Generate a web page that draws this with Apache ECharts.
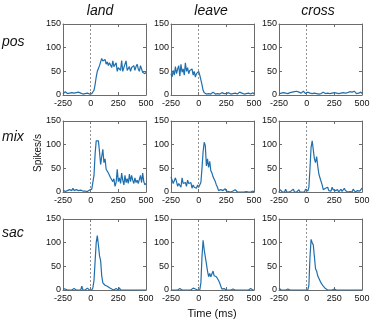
<!DOCTYPE html>
<html><head><meta charset="utf-8">
<script src="https://cdn.jsdelivr.net/npm/echarts@6/dist/echarts.min.js"></script>
<style>html,body{margin:0;padding:0;background:#fff}#c{width:380px;height:324px}</style>
</head><body><div id="c"></div>
<script>
const times = [-250,-240,-230,-220,-210,-200,-190,-180,-170,-160,
-150,-140,-130,-120,-110,-100,-90,-80,-70,-60,
-50,-40,-30,-20,-10,0,10,20,30,40,
50,60,70,80,90,100,110,120,130,140,
150,160,170,180,190,200,210,220,230,240,
250,260,270,280,290,300,310,320,330,340,
350,360,370,380,390,400,410,420,430,440,
450,460,470,480,490,500];
const colTitles = ['land','leave','cross'];
const rowTitles = ['pos','mix','sac'];
const xTicks = [-250,0,250,500];
const yTicks = [0,50,100,150];

const posLand = [2,5,7,6,3,6,4,2,5,3, 4,2,5,3,6,2,4,3,2,5, 3,2,4,6,2,4,3,6,10,22,
 38,50,56,62,70,77,72,68,75,65, 70,62,68,66,58,72,60,56,68,50, 58,55,52,73,50,58,54,72,52,56,
 60,50,58,55,62,52,60,65,55,50, 62,55,48,52,45,48];
const posLeave = [45,38,52,42,60,45,55,62,40,65, 48,55,42,68,50,58,45,52,48,55, 42,50,38,45,45,50,42,38,22,10,
 5,4,2,6,3,5,2,4,6,3, 2,5,3,6,2,4,5,2,3,6, 3,2,5,4,2,6,3,2,4,5,
 2,3,6,2,4,3,2,5,3,2, 4,6,2,3,5,2];
const posCross = [2,3,4,2,5,3,4,6,3,4, 5,3,6,4,7,5,8,4,6,3, 4,5,8,6,3,2,6,3,4,2,
 3,1,4,2,3,5,2,4,3,5, 6,4,3,5,4,6,3,5,4,2, 5,3,4,6,3,2,4,3,5,6,
 4,3,5,4,7,5,6,4,8,5, 3,6,4,8,6,3];
const mixLand = [4,3,1,2,3,2,5,2,3,8, 3,2,5,6,3,2,4,3,2,1, 2,3,1,5,4,4,6,10,35,80,
 108,110,108,85,58,75,90,62,70,48, 52,40,38,30,32,22,28,12,20,48, 22,30,18,40,25,15,35,20,28,18,
 38,22,35,25,18,30,20,25,18,22, 35,20,40,22,15,18];
const mixLeave = [32,25,18,15,30,22,12,18,15,10, 30,18,15,20,12,25,18,15,20,8, 15,10,12,8,15,10,14,20,50,85,
 105,98,55,70,52,65,45,40,32,30, 22,15,10,3,2,5,1,3,2,7, 2,0,1,3,0,1,2,0,5,1,
 0,1,0,2,0,1,0,0,1,0, 0,1,0,0,2,0];
const mixCross = [0,5,2,0,1,0,6,0,1,0, 0,2,0,6,0,1,0,0,5,0, 1,0,4,0,6,3,2,10,50,95,
 108,105,70,62,75,55,38,30,28,15, 5,2,8,5,10,3,6,2,10,5, 8,3,1,5,0,2,6,1,4,8,
 3,5,0,2,1,4,0,6,2,0, 1,3,0,2,5,8];
const sacLand = [3,5,2,0,0,0,0,0,0,0, 3,0,0,0,0,4,0,8,0,4, 0,0,4,0,0,1,0,5,20,60,
 100,115,95,72,62,30,15,18,10,12, 8,12,5,3,2,0,0,0,3,0, 0,5,0,2,0,0,0,0,0,0,
 0,0,0,3,0,0,0,0,0,0, 0,0,0,0,0,0];
const sacLeave = [0,0,0,0,0,0,0,0,3,3, 0,0,0,0,0,3,0,0,0,0, 4,0,2,0,0,1,0,15,70,105,
 85,70,55,40,28,35,28,32,40,30, 32,28,25,20,15,8,2,0,3,0, 0,0,0,0,0,0,2,0,0,0,
 0,0,0,0,0,0,0,2,0,0, 0,0,3,0,0,0];
const sacCross = [4,0,0,0,0,0,0,0,2,0, 0,0,0,0,0,0,0,0,0,0, 0,0,0,0,0,0,0,10,70,107,
 100,95,70,45,40,30,25,22,15,12, 8,5,3,2,0,0,0,0,0,0, 2,0,0,0,0,0,0,0,0,0,
 0,0,0,0,0,2,0,0,0,0, 0,0,0,0,0,0];

const panels = [[posLand,posLeave,posCross],[mixLand,mixLeave,mixCross],[sacLand,sacLeave,sacCross]];

const colLeft = [63,171,279], rowTop = [24,121,219], W = 83, H = 71;
const FONT = 'Liberation Sans, Arial, sans-serif';
const axisCol = '#6b6b6b';
const grid = [], xAxis = [], yAxis = [], series = [];
let g = 0;
for (let r = 0; r < 3; r++) for (let c = 0; c < 3; c++) {
  grid.push({left: colLeft[c], top: rowTop[r], width: W, height: H, show: false});
  const common = {type:'value', min:-250, max:500, interval:250, gridIndex:g,
    axisLine:{show:true, onZero:false, lineStyle:{color:axisCol, width:1}},
    axisTick:{show:true, inside:true, length:3, lineStyle:{color:axisCol}},
    splitLine:{show:false}};
  xAxis.push(Object.assign({}, common, {position:'bottom',
    axisLabel:{show:true, fontSize:9, color:'#111', fontFamily:FONT, margin:4,
      formatter: v => xTicks.includes(v) ? String(v) : ''}}));
  xAxis.push(Object.assign({}, common, {position:'top', axisLabel:{show:false}}));
  const ycommon = {type:'value', min:0, max:150, interval:50, gridIndex:g,
    axisLine:{show:true, onZero:false, lineStyle:{color:axisCol, width:1}},
    axisTick:{show:true, inside:true, length:3, lineStyle:{color:axisCol}},
    splitLine:{show:false}};
  yAxis.push(Object.assign({}, ycommon, {position:'left',
    axisLabel:{show:true, fontSize:9, color:'#111', fontFamily:FONT, margin:2,
      formatter: v => yTicks.includes(v) ? String(v) : ''}}));
  yAxis.push(Object.assign({}, ycommon, {position:'right', axisLabel:{show:false}}));
  const vals = panels[r][c];
  series.push({type:'line', xAxisIndex:2*g, yAxisIndex:2*g, showSymbol:false, animation:false,
    data: times.map((t,i)=>[t, vals[i]]),
    lineStyle:{color:'#1f6fae', width:1.2}, itemStyle:{color:'#1f6fae'},
    markLine:{silent:true, symbol:'none', animation:false,
      label:{show:false}, lineStyle:{type:[2,2], color:'#777', width:0.8},
      data:[{xAxis:0}]}});
  g++;
}
const graphic = [];
const colCx = [100, 211, 318];
colTitles.forEach((t,i)=>graphic.push({type:'text', x:colCx[i], y:11,
  style:{text:t, font:'italic 14px '+FONT, fill:'#111', textAlign:'center', textVerticalAlign:'middle'}}));
const rowCy = [42, 137, 233];
rowTitles.forEach((t,i)=>graphic.push({type:'text', x:2, y:rowCy[i],
  style:{text:t, font:'italic 14px '+FONT, fill:'#111', textAlign:'left', textVerticalAlign:'middle'}}));
graphic.push({type:'text', x:38, y:153, rotation:Math.PI/2,
  style:{text:'Spikes/s', font:'10px '+FONT, fill:'#111', textAlign:'center', textVerticalAlign:'middle'}});
graphic.push({type:'text', x:212, y:314,
  style:{text:'Time (ms)', font:'11px '+FONT, fill:'#111', textAlign:'center', textVerticalAlign:'middle'}});

const chart = echarts.init(document.getElementById('c'), null, {renderer:'canvas'});
chart.setOption({animation:false, grid, xAxis, yAxis, series, graphic});
</script></body></html>
